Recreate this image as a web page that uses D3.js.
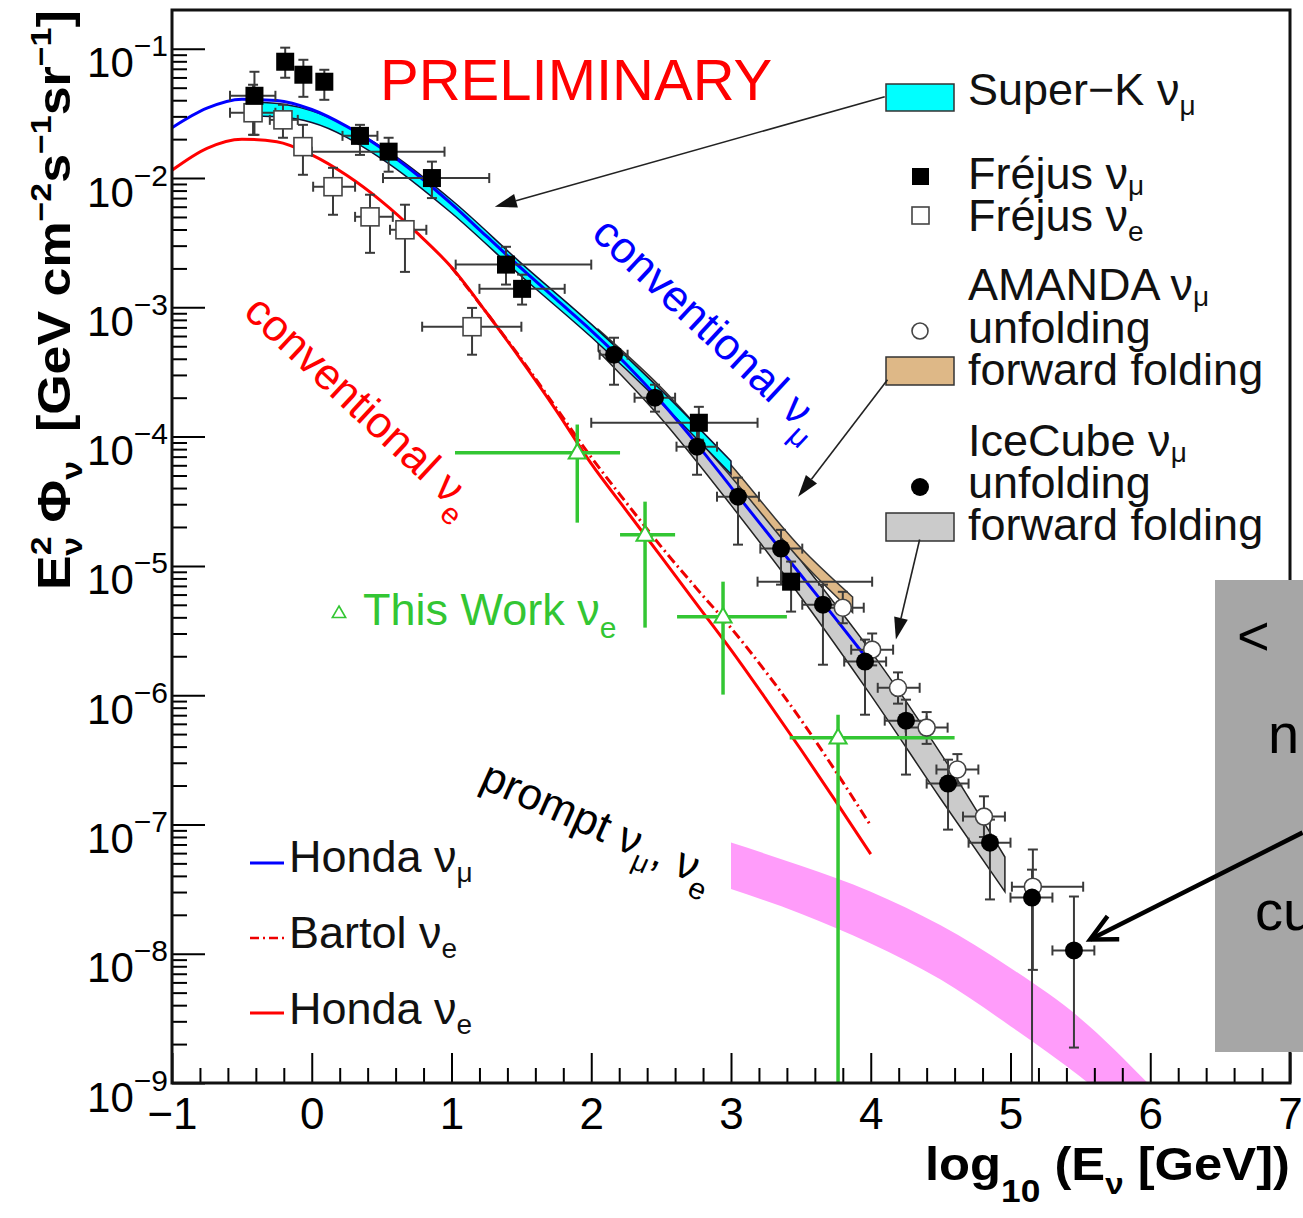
<!DOCTYPE html>
<html><head><meta charset="utf-8">
<script src="https://cdn.jsdelivr.net/npm/d3@7"></script>
<style>
body{margin:0;background:#fff}
svg{display:block}
text{font-family:"Liberation Sans",Arial,Helvetica,sans-serif;white-space:pre}
</style>
</head><body>
<svg id="c" width="1303" height="1218"></svg>
<script>
// ---------------- DATA (log10(E/GeV), E^2 Phi in GeV cm^-2 s^-1 sr^-1) ----------------
const xTicks = [-1,0,1,2,3,4,5,6,7];
const yTicks = [1e-9,1e-8,1e-7,1e-6,1e-5,1e-4,1e-3,1e-2,1e-1];

// Honda nu_mu (blue)
const hondaMuE = [-1,-0.75,-0.5,-0.25,0,0.25,0.5,0.75,1,1.25,1.5,1.75,2,2.25,2.5,2.75,3,3.25,3.5,3.75,3.96];
const hondaMuF = [2.45e-2,3.47e-2,4.07e-2,3.98e-2,3.39e-2,2.51e-2,1.70e-2,1.07e-2,6.31e-3,3.55e-3,2.00e-3,1.15e-3,6.61e-4,3.63e-4,1.86e-4,8.91e-5,4.07e-5,1.86e-5,8.51e-6,3.89e-6,2.00e-6];
// Honda nu_e (red)
const hondaEE = [-1,-0.75,-0.5,-0.25,0,0.25,0.5,0.75,1,1.25,1.5,1.75,2,2.25,2.5,2.75,3,3.25,3.5,3.75,4];
const hondaEF = [1.15e-2,1.70e-2,2.00e-2,1.91e-2,1.51e-2,1.05e-2,6.61e-3,3.80e-3,2.04e-3,9.12e-4,3.89e-4,1.59e-4,6.17e-5,2.69e-5,1.18e-5,5.13e-6,2.24e-6,9.33e-7,3.80e-7,1.51e-7,5.89e-8];
// Bartol nu_e (red dash-dot)
const bartolE = [1,1.25,1.5,1.75,2,2.25,2.5,2.75,3,3.25,3.5,3.75,4];
const bartolF = [2.04e-3,9.12e-4,3.98e-4,1.66e-4,6.92e-5,3.09e-5,1.41e-5,6.76e-6,3.31e-6,1.51e-6,6.46e-7,2.57e-7,9.77e-8];

// Super-K nu_mu band
const superKE  = [-0.45,-0.2,0,0.5,1,1.5,2,2.5,3];
const superKHi = [3.89e-2,3.72e-2,3.31e-2,1.74e-2,6.76e-3,2.19e-3,7.41e-4,2.29e-4,6.46e-5];
const superKLo = [3.02e-2,2.95e-2,2.69e-2,1.41e-2,5.37e-3,1.74e-3,5.89e-4,1.82e-4,5.13e-5];
// AMANDA forward folding band
const amandaFfE  = [2.05,2.5,3,3.5,3.87];
const amandaFfHi = [6.76e-4,2.40e-4,6.03e-5,1.38e-5,5.75e-6];
const amandaFfLo = [5.50e-4,1.95e-4,4.90e-5,1.10e-5,4.37e-6];
// IceCube forward folding band
const iceFfE  = [2.05,2.5,3,3.5,4,4.5,4.96];
const iceFfHi = [6.31e-4,2.14e-4,5.01e-5,1.10e-5,2.19e-6,3.55e-7,5.60e-8];
const iceFfLo = [4.57e-4,1.38e-4,2.95e-5,5.75e-6,1.00e-6,1.58e-7,3.02e-8];
// prompt nu_mu, nu_e band
const promptE  = [3,3.5,4,4.5,5,5.5,6];
const promptHi = [7.24e-8,4.79e-8,3.02e-8,1.66e-8,7.76e-9,3.16e-9,9.55e-10];
const promptLo = [3.16e-8,2.04e-8,1.20e-8,6.31e-9,2.75e-9,1.12e-9,3.98e-10];

// points: [logE, flux, logE low, logE high, flux low, flux high]
const frejusMu = [
  [-0.41,4.33e-2,-0.585,-0.26,2.16e-2,6.64e-2],
  [-0.19,7.94e-2,-0.19,-0.19,5.97e-2,1.02e-1],
  [-0.06,6.30e-2,-0.06,-0.06,4.25e-2,8.22e-2],
  [0.09,5.56e-2,0.09,0.09,4.03e-2,6.88e-2],
  [0.345,2.12e-2,0.22,0.47,1.51e-2,2.58e-2],
  [0.55,1.60e-2,0.0,0.95,1.12e-2,2.05e-2],
  [0.86,1.00e-2,0.51,1.27,7.0e-3,1.34e-2],
  [1.39,2.14e-3,1.03,2.0,1.50e-3,2.94e-3],
  [1.505,1.39e-3,1.20,1.81,1.05e-3,1.79e-3],
  [2.77,1.28e-4,2.0,3.19,9.46e-5,1.70e-4],
  [3.43,7.55e-6,3.19,4.01,4.43e-6,1.08e-5]
];
const frejusE = [
  [-0.42,3.20e-2,-0.585,-0.26,2.16e-2,5.27e-2],
  [-0.206,2.82e-2,-0.30,-0.10,2.05e-2,3.69e-2],
  [-0.063,1.75e-2,-0.063,-0.063,1.06e-2,2.58e-2],
  [0.152,8.57e-3,0.01,0.31,5.2e-3,1.20e-2],
  [0.417,5.01e-3,0.31,0.58,2.64e-3,7.43e-3],
  [0.667,3.98e-3,0.56,0.82,1.88e-3,6.22e-3],
  [1.147,7.08e-4,0.79,1.50,4.3e-4,9.9e-4]
];
const iceUnf = [
  [2.163,4.30e-4,2.06,2.26,2.52e-4,5.82e-4],
  [2.456,2.00e-4,2.31,2.60,1.56e-4,2.52e-4],
  [2.757,8.36e-5,2.61,2.90,5.07e-5,1.24e-4],
  [3.05,3.43e-5,2.90,3.20,1.46e-5,4.81e-5],
  [3.358,1.36e-5,3.21,3.51,7.16e-6,1.90e-5],
  [3.658,5.01e-6,3.51,3.81,1.72e-6,7.16e-6],
  [3.959,1.82e-6,3.81,4.11,7.06e-7,2.69e-6],
  [4.252,6.35e-7,4.10,4.40,2.43e-7,9.23e-7],
  [4.553,2.07e-7,4.40,4.70,9.12e-8,3.17e-7],
  [4.853,7.23e-8,4.70,5.00,2.63e-8,1.09e-7],
  [5.154,2.72e-8,5.00,5.30,1e-10,4.47e-8],
  [5.454,1.06e-8,5.30,5.60,1.88e-9,2.77e-8]
];
const amandaUnf = [
  [3.80,4.75e-6,3.65,3.95,3.6e-6,6.3e-6],
  [4.01,2.25e-6,3.86,4.16,1.7e-6,3.0e-6],
  [4.195,1.14e-6,4.05,4.35,8.6e-7,1.5e-6],
  [4.40,5.61e-7,4.25,4.55,4.2e-7,7.4e-7],
  [4.62,2.66e-7,4.47,4.77,2.0e-7,3.5e-7],
  [4.81,1.15e-7,4.66,4.96,8.0e-8,1.65e-7],
  [5.16,3.30e-8,5.01,5.52,7.5e-9,6.4e-8]
];
const thisWork = [
  [1.90,7.5e-5,1.025,2.206,2.16e-5,1.24e-4],
  [2.385,1.74e-5,2.206,2.60,3.33e-6,3.14e-5],
  [2.943,4.05e-6,2.614,3.40,1.01e-6,7.55e-6],
  [3.766,4.69e-7,3.42,4.60,1e-10,7.06e-7]
];
// annotation arrows [from logE, from flux, to logE, to flux]
const arrowsData = [
  [4.10,4.26e-2,1.31,6.0e-3],
  [4.12,2.75e-4,3.48,3.43e-5],
  [4.35,1.60e-5,4.18,2.69e-6]
];
const bigArrow = [7.09,8.65e-8,5.57,1.29e-8];

// ---------------- DRAWING ----------------
const svg = d3.select('#c');
const X0=172, X1=1290, Y0=10, Y1=1083;
const x = d3.scaleLinear().domain([-1,7]).range([X0,X1]);
const y = d3.scaleLog().domain([1e-9, 0.1995]).range([Y1,Y0]);
const GREEN = '#33c633', BAR = '#3a3a3a';

svg.append('defs').append('clipPath').attr('id','plot')
  .append('rect').attr('x',X0).attr('y',Y0).attr('width',X1-X0).attr('height',Y1-Y0);
const plot = svg.append('g').attr('clip-path','url(#plot)');

const zipBand = (E,lo,hi) => E.map((e,i)=>({e, lo:lo[i], hi:hi[i]}));
const area = d3.area().x(d=>x(d.e)).y0(d=>y(d.lo)).y1(d=>y(d.hi)).curve(d3.curveMonotoneX);
const line = d3.line().x(d=>x(d[0])).y(d=>y(d[1])).curve(d3.curveMonotoneX);

plot.append('path').datum(zipBand(promptE,promptLo,promptHi)).attr('d',area).attr('fill','#ff9cfa');
plot.append('path').datum(zipBand(iceFfE,iceFfLo,iceFfHi)).attr('d',area)
  .attr('fill','#cbcbcb').attr('stroke','#222').attr('stroke-width',1.5);
plot.append('path').datum(zipBand(amandaFfE,amandaFfLo,amandaFfHi)).attr('d',area)
  .attr('fill','#deb887').attr('stroke','#333').attr('stroke-width',1.5);
plot.append('path').datum(zipBand(superKE,superKLo,superKHi)).attr('d',area)
  .attr('fill','#00ffff').attr('stroke','#113').attr('stroke-width',1.5);

plot.append('path').datum(d3.zip(hondaEE,hondaEF)).attr('d',line)
  .attr('fill','none').attr('stroke','#ff0000').attr('stroke-width',3);
plot.append('path').datum(d3.zip(bartolE,bartolF)).attr('d',line)
  .attr('fill','none').attr('stroke','#ee0000').attr('stroke-width',3).attr('stroke-dasharray','10,4,2,4');
plot.append('path').datum(d3.zip(hondaMuE,hondaMuF)).attr('d',line)
  .attr('fill','none').attr('stroke','#0000ff').attr('stroke-width',3);

function errors(g, pts, color, w, cap){
  pts.forEach(p=>{
    const [e,f,e0,e1,f0,f1]=p, cx=x(e), cy=y(f);
    if (e1>e0){
      g.append('line').attr('x1',x(e0)).attr('x2',x(e1)).attr('y1',cy).attr('y2',cy).attr('stroke',color).attr('stroke-width',w);
      if (cap) [e0,e1].forEach(v=>g.append('line').attr('x1',x(v)).attr('x2',x(v)).attr('y1',cy-cap).attr('y2',cy+cap).attr('stroke',color).attr('stroke-width',w));
    }
    if (f1>f0){
      g.append('line').attr('x1',cx).attr('x2',cx).attr('y1',y(f0)).attr('y2',y(f1)).attr('stroke',color).attr('stroke-width',w);
      if (cap) [f0,f1].forEach(v=>g.append('line').attr('x1',cx-cap).attr('x2',cx+cap).attr('y1',y(v)).attr('y2',y(v)).attr('stroke',color).attr('stroke-width',w));
    }
  });
}
const eg = plot.append('g');
errors(eg, frejusE, BAR, 2, 5);
errors(eg, frejusMu, BAR, 2, 5);
errors(eg, amandaUnf, BAR, 2, 5);
errors(eg, iceUnf, BAR, 2, 5);
errors(eg, thisWork, GREEN, 3.5, 0);

const mg = plot.append('g');
mg.selectAll(null).data(frejusE).join('rect')
  .attr('x',d=>x(d[0])-9).attr('y',d=>y(d[1])-9).attr('width',18).attr('height',18)
  .attr('fill','#fff').attr('stroke','#444').attr('stroke-width',1.6);
mg.selectAll(null).data(frejusMu).join('rect')
  .attr('x',d=>x(d[0])-9).attr('y',d=>y(d[1])-9).attr('width',18).attr('height',18).attr('fill','#000');
mg.selectAll(null).data(amandaUnf).join('circle')
  .attr('cx',d=>x(d[0])).attr('cy',d=>y(d[1])).attr('r',8.5)
  .attr('fill','#fff').attr('stroke','#444').attr('stroke-width',1.6);
mg.selectAll(null).data(iceUnf).join('circle')
  .attr('cx',d=>x(d[0])).attr('cy',d=>y(d[1])).attr('r',9).attr('fill','#000');
const tri = (cx,cy,s)=>`M${cx},${cy-s}L${cx+s*0.95},${cy+s*0.65}L${cx-s*0.95},${cy+s*0.65}Z`;
mg.selectAll(null).data(thisWork).join('path')
  .attr('d',d=>tri(x(d[0]),y(d[1]),9)).attr('fill','#fff').attr('stroke',GREEN).attr('stroke-width',2);

// ---------------- AXES ----------------
const gx = svg.append('g').attr('transform',`translate(0,${Y1})`)
  .call(d3.axisBottom(x).tickValues(xTicks).tickSize(-30).tickPadding(15));
const xMinor = d3.range(-1,7.0001,0.2).filter(v=>Math.abs(v-Math.round(v))>1e-6);
svg.append('g').attr('transform',`translate(0,${Y1})`)
  .call(d3.axisBottom(x).tickValues(xMinor).tickSize(-15).tickFormat(''))
  .call(g=>{g.select('.domain').remove(); g.selectAll('.tick line').attr('stroke','#000').attr('stroke-width',2);});
gx.select('.domain').remove();
gx.selectAll('.tick line').attr('stroke','#000').attr('stroke-width',2);
gx.selectAll('.tick text').attr('font-size',44).attr('fill','#000')
  .attr('font-family','"Liberation Sans",Arial,sans-serif');

const gy = svg.append('g').attr('transform',`translate(${X0},0)`)
  .call(d3.axisLeft(y).tickValues(yTicks).tickSize(-33).tickPadding(4).tickFormat(''));
gy.select('.domain').remove();
gy.selectAll('.tick line').attr('stroke','#000').attr('stroke-width',2);
gy.selectAll('.tick text').each(function(d){
  const t = d3.select(this);
  t.attr('dy',null).attr('y',28).attr('font-size',42).attr('fill','#000')
   .attr('font-family','"Liberation Sans",Arial,sans-serif');
  t.append('tspan').text('10');
  t.append('tspan').attr('dy',-21).attr('font-size',30).text('\u2212'+Math.round(-Math.log10(d)));
});
const yMinor = [];
yTicks.slice(0,-1).forEach(b=>{ for(let k=2;k<=9;k++) yMinor.push(b*k); });
svg.append('g').attr('transform',`translate(${X0},0)`)
  .call(d3.axisLeft(y).tickValues(yMinor).tickSize(-15).tickFormat(''))
  .call(g=>{g.select('.domain').remove(); g.selectAll('.tick line').attr('stroke','#000').attr('stroke-width',2);});

// frame
svg.append('rect').attr('x',X0).attr('y',Y0).attr('width',X1-X0).attr('height',Y1-Y0)
  .attr('fill','none').attr('stroke','#111').attr('stroke-width',3);

// ---------------- TEXT HELPERS ----------------
function rich(parent, segs, attrs){
  const t = parent.append('text');
  Object.entries(attrs||{}).forEach(([k,v])=>t.attr(k,v));
  let cur = 0;
  segs.forEach(s=>{
    const sp = t.append('tspan').text(s.t);
    const off = s.off||0;
    if (off!==cur) sp.attr('dy', off-cur);
    cur = off;
    if (s.size) sp.attr('font-size', s.size);
    if (s.dx) sp.attr('dx', s.dx);
  });
  return t;
}
function fit(t, target){
  const w = t.node().getBBox().width;
  t.attr('transform', `scale(${target/w},1)`);
}

// axis titles
const yt = svg.append('g').attr('transform','translate(70,590) rotate(-90)');
fit(rich(yt,[
  {t:'E'},{t:'2',off:-19,size:30},{t:'\u03bd',off:12,size:30,dx:-17},
  {t:' \u03a6'},{t:'\u03bd',off:12,size:30},{t:'  [GeV cm'},{t:'\u22122',off:-19,size:30},
  {t:'s'},{t:'\u22121',off:-19,size:30},{t:'sr'},{t:'\u22121',off:-19,size:30},{t:']'}
],{x:0,y:0,'font-size':46,'font-weight':'bold',fill:'#000'}), 580);

const xt = svg.append('g').attr('transform','translate(925,1180)');
fit(rich(xt,[
  {t:'log'},{t:'10',off:22,size:32},{t:' (E'},{t:'\u03bd',off:14,size:30},{t:' [GeV])'}
],{x:0,y:0,'font-size':46,'font-weight':'bold',fill:'#000'}), 365);

// PRELIMINARY
svg.append('text').attr('x',380).attr('y',100).attr('font-size',58).attr('fill','#ff0000').text('PRELIMINARY');

// rotated labels
const cm = svg.append('g').attr('transform','translate(590,236) rotate(43)');
rich(cm,[{t:'conventional \u03bd'},{t:'\u03bc',off:14,size:30}],{x:0,y:0,'font-size':44,fill:'#0000ff'});
const ce = svg.append('g').attr('transform','translate(242,314) rotate(43)');
rich(ce,[{t:'conventional \u03bd'},{t:'e',off:14,size:30}],{x:0,y:0,'font-size':44,fill:'#ff0000'});
const pr = svg.append('g').attr('transform','translate(478,787) rotate(24)');
rich(pr,[{t:'prompt \u03bd'},{t:'\u03bc',off:12,size:28},{t:', \u03bd'},{t:'e',off:14,size:30}],{x:0,y:0,'font-size':44,fill:'#000'});

// This Work label
svg.append('path').attr('d',tri(339,613,7)).attr('fill','none').attr('stroke',GREEN).attr('stroke-width',1.6);
rich(svg,[{t:'This Work \u03bd'},{t:'e',off:13,size:30}],{x:363,y:625,'font-size':45,fill:GREEN});

// ---------------- LEGENDS ----------------
const LF = 45, SUB = {off:10,size:28};
const lg = svg.append('g');
lg.append('rect').attr('x',886).attr('y',84).attr('width',68).attr('height',27).attr('fill','#00ffff').attr('stroke','#333').attr('stroke-width',1.5);
rich(lg,[{t:'Super\u2212K \u03bd'},{t:'\u03bc',...SUB}],{x:968,y:105,'font-size':LF,fill:'#111'});
lg.append('rect').attr('x',912).attr('y',168).attr('width',17).attr('height',17).attr('fill','#000');
rich(lg,[{t:'Fr\u00e9jus \u03bd'},{t:'\u03bc',off:6,size:28}],{x:968,y:189,'font-size':LF,fill:'#111'});
lg.append('rect').attr('x',912).attr('y',207).attr('width',17).attr('height',17).attr('fill','#fff').attr('stroke','#444').attr('stroke-width',1.6);
rich(lg,[{t:'Fr\u00e9jus \u03bd'},{t:'e',...SUB}],{x:968,y:231,'font-size':LF,fill:'#111'});
rich(lg,[{t:'AMANDA \u03bd'},{t:'\u03bc',off:6,size:28}],{x:968,y:300,'font-size':LF,fill:'#111'});
lg.append('circle').attr('cx',920).attr('cy',331).attr('r',8).attr('fill','#fff').attr('stroke','#444').attr('stroke-width',1.6);
lg.append('text').attr('x',968).attr('y',343).attr('font-size',LF).attr('fill','#111').text('unfolding');
lg.append('rect').attr('x',886).attr('y',357).attr('width',68).attr('height',28).attr('fill','#deb887').attr('stroke','#333').attr('stroke-width',1.5);
lg.append('text').attr('x',968).attr('y',385).attr('font-size',LF).attr('fill','#111').text('forward folding');
rich(lg,[{t:'IceCube \u03bd'},{t:'\u03bc',off:6,size:28}],{x:968,y:456,'font-size':LF,fill:'#111'});
lg.append('circle').attr('cx',920).attr('cy',487).attr('r',9).attr('fill','#000');
lg.append('text').attr('x',968).attr('y',498).attr('font-size',LF).attr('fill','#111').text('unfolding');
lg.append('rect').attr('x',886).attr('y',513).attr('width',68).attr('height',28).attr('fill','#cbcbcb').attr('stroke','#333').attr('stroke-width',1.5);
lg.append('text').attr('x',968).attr('y',540).attr('font-size',LF).attr('fill','#111').text('forward folding');

// lower-left legend
lg.append('line').attr('x1',250).attr('x2',284).attr('y1',863).attr('y2',863).attr('stroke','#0000ff').attr('stroke-width',3);
rich(lg,[{t:'Honda \u03bd'},{t:'\u03bc',...SUB}],{x:289,y:872,'font-size':LF,fill:'#111'});
lg.append('line').attr('x1',250).attr('x2',284).attr('y1',938).attr('y2',938).attr('stroke','#ee0000').attr('stroke-width',2.5).attr('stroke-dasharray','9,4,2,4');
rich(lg,[{t:'Bartol \u03bd'},{t:'e',...SUB}],{x:289,y:948,'font-size':LF,fill:'#111'});
lg.append('line').attr('x1',250).attr('x2',284).attr('y1',1013).attr('y2',1013).attr('stroke','#ff0000').attr('stroke-width',3);
rich(lg,[{t:'Honda \u03bd'},{t:'e',...SUB}],{x:289,y:1024,'font-size':LF,fill:'#111'});

// ---------------- ARROWS ----------------
function arrow(g, a, opt){
  const x1=x(a[0]), y1=y(a[1]), x2=x(a[2]), y2=y(a[3]);
  const ang = Math.atan2(y2-y1, x2-x1);
  const bx = x2-opt.head*Math.cos(ang), by = y2-opt.head*Math.sin(ang);
  const px = -Math.sin(ang)*opt.hw, py = Math.cos(ang)*opt.hw;
  if (opt.filled){
    g.append('line').attr('x1',x1).attr('y1',y1).attr('x2',bx).attr('y2',by).attr('stroke','#222').attr('stroke-width',opt.w);
    g.append('path').attr('d',`M${x2},${y2}L${bx+px},${by+py}L${bx-px},${by-py}Z`).attr('fill','#111');
  } else {
    g.append('line').attr('x1',x1).attr('y1',y1).attr('x2',x2).attr('y2',y2).attr('stroke','#000').attr('stroke-width',opt.w);
    g.append('path').attr('d',`M${bx+px},${by+py}L${x2},${y2}L${bx-px},${by-py}`).attr('fill','none')
      .attr('stroke','#000').attr('stroke-width',opt.w).attr('stroke-linejoin','miter');
  }
}
const ag = svg.append('g');
arrowsData.forEach(a=>arrow(ag,a,{w:1.6,head:22,hw:7,filled:true}));

// grey overlay box on the right
svg.append('rect').attr('x',1215).attr('y',580).attr('width',100).attr('height',472).attr('fill','#a6a6a6');
const bt = svg.append('g').attr('font-size',56).attr('fill','#000').attr('font-family','Roboto,"Liberation Sans",Arial,sans-serif');
bt.append('text').attr('x',1237).attr('y',655).text('<');
bt.append('text').attr('x',1268).attr('y',753).text('n');
bt.append('text').attr('x',1255).attr('y',930).text('cu');
arrow(ag.raise(), bigArrow, {w:4.5,head:26,hw:13,filled:false});
</script>
</body></html>
